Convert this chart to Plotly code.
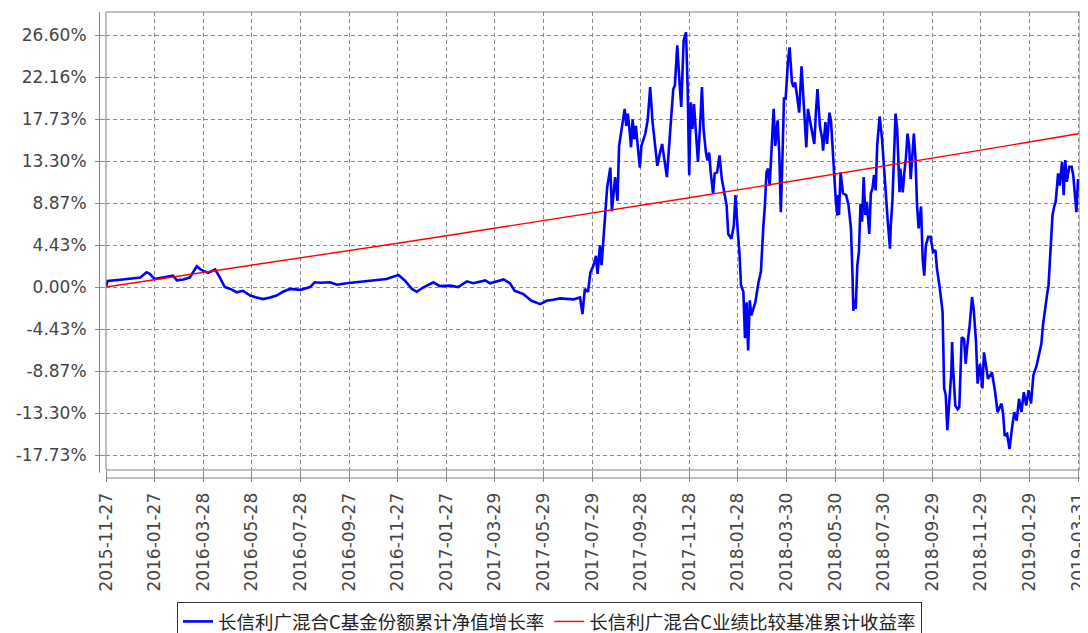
import plotly.graph_objects as go

# ---------------- data ----------------
fund_name = "长信利广混合C基金份额累计净值增长率"
bench_name = "长信利广混合C业绩比较基准累计收益率"

x_tick_dates = [
    "2015-11-27", "2016-01-27", "2016-03-28", "2016-05-28", "2016-07-28",
    "2016-09-27", "2016-11-27", "2017-01-27", "2017-03-29", "2017-05-29",
    "2017-07-29", "2017-09-28", "2017-11-28", "2018-01-28", "2018-03-30",
    "2018-05-30", "2018-07-30", "2018-09-29", "2018-11-29", "2019-01-29",
    "2019-03-31",
]

y_tick_vals = [-17.7333, -13.3, -8.8667, -4.4333, 0.0, 4.4333, 8.8667, 13.3, 17.7333, 22.1667, 26.6]
y_tick_text = ["-17.73%", "-13.30%", "-8.87%", "-4.43%", "0.00%", "4.43%", "8.87%", "13.30%", "17.73%", "22.16%", "26.60%"]

bench_dates = x_tick_dates
bench_values = [0.00, 0.76, 1.52, 2.29, 3.06, 3.84, 4.62, 5.41, 6.20, 7.00, 7.80,
                8.61, 9.43, 10.25, 11.08, 11.91, 12.75, 13.60, 14.45, 15.31, 16.18]

fund_dates = [
    "2015-11-27", "2015-11-29", "2015-12-12", "2015-12-27", "2016-01-09", "2016-01-17", "2016-01-21",
    "2016-01-27", "2016-02-07", "2016-02-19", "2016-02-24", "2016-03-03", "2016-03-11", "2016-03-20",
    "2016-03-24", "2016-03-28", "2016-04-03", "2016-04-12", "2016-04-18", "2016-04-24", "2016-05-01",
    "2016-05-09", "2016-05-17", "2016-05-26", "2016-06-03", "2016-06-11", "2016-06-20", "2016-06-28",
    "2016-07-06", "2016-07-15", "2016-07-28", "2016-08-09", "2016-08-15", "2016-08-22", "2016-09-03",
    "2016-09-12", "2016-09-24", "2016-10-07", "2016-10-27", "2016-11-13", "2016-11-28", "2016-12-06",
    "2016-12-15", "2016-12-21", "2016-12-29", "2017-01-11", "2017-01-19", "2017-02-01", "2017-02-11",
    "2017-02-22", "2017-03-02", "2017-03-17", "2017-03-23", "2017-04-09", "2017-04-17", "2017-04-23",
    "2017-05-04", "2017-05-14", "2017-05-25", "2017-06-02", "2017-06-10", "2017-06-19", "2017-07-06",
    "2017-07-14", "2017-07-17", "2017-07-20", "2017-07-24", "2017-07-27", "2017-07-31", "2017-08-03",
    "2017-08-05", "2017-08-08", "2017-08-10", "2017-08-14", "2017-08-17", "2017-08-21", "2017-08-23",
    "2017-08-27", "2017-08-30", "2017-09-01", "2017-09-04", "2017-09-08", "2017-09-10", "2017-09-12",
    "2017-09-14", "2017-09-16", "2017-09-18", "2017-09-20", "2017-09-22", "2017-09-25", "2017-09-27",
    "2017-09-29", "2017-10-04", "2017-10-07", "2017-10-10", "2017-10-13", "2017-10-16", "2017-10-19",
    "2017-10-22", "2017-10-25", "2017-10-28", "2017-10-31", "2017-11-04", "2017-11-08", "2017-11-10",
    "2017-11-13", "2017-11-16", "2017-11-18", "2017-11-21", "2017-11-24", "2017-11-26", "2017-11-28",
    "2017-11-30", "2017-12-02", "2017-12-04", "2017-12-07", "2017-12-09", "2017-12-12", "2017-12-14",
    "2017-12-16", "2017-12-19", "2017-12-21", "2017-12-23", "2017-12-25", "2017-12-28", "2017-12-30",
    "2018-01-02", "2018-01-05", "2018-01-08", "2018-01-11", "2018-01-14", "2018-01-16", "2018-01-20",
    "2018-01-23", "2018-01-25", "2018-01-28", "2018-01-30", "2018-02-01", "2018-02-04", "2018-02-06",
    "2018-02-08", "2018-02-10", "2018-02-12", "2018-02-14", "2018-02-19", "2018-02-23", "2018-02-26",
    "2018-03-01", "2018-03-03", "2018-03-05", "2018-03-07", "2018-03-09", "2018-03-12", "2018-03-14",
    "2018-03-16", "2018-03-19", "2018-03-21", "2018-03-23", "2018-03-25", "2018-03-27", "2018-03-29",
    "2018-04-01", "2018-04-03", "2018-04-06", "2018-04-08", "2018-04-10", "2018-04-13", "2018-04-15",
    "2018-04-18", "2018-04-20", "2018-04-22", "2018-04-24", "2018-04-26", "2018-05-01", "2018-05-04",
    "2018-05-06", "2018-05-08", "2018-05-11", "2018-05-14", "2018-05-15", "2018-05-18", "2018-05-20",
    "2018-05-23", "2018-05-25", "2018-05-28", "2018-05-31", "2018-06-02", "2018-06-03", "2018-06-04",
    "2018-06-06", "2018-06-09", "2018-06-13", "2018-06-16", "2018-06-19", "2018-06-21", "2018-06-22",
    "2018-06-24", "2018-06-25", "2018-06-27", "2018-06-29", "2018-07-01", "2018-07-03", "2018-07-05",
    "2018-07-07", "2018-07-09", "2018-07-12", "2018-07-14", "2018-07-16", "2018-07-18", "2018-07-20",
    "2018-07-22", "2018-07-25", "2018-07-28", "2018-07-30", "2018-08-01", "2018-08-04", "2018-08-07",
    "2018-08-08", "2018-08-10", "2018-08-12", "2018-08-14", "2018-08-16", "2018-08-17", "2018-08-19",
    "2018-08-20", "2018-08-23", "2018-08-25", "2018-08-27", "2018-08-29", "2018-08-31", "2018-09-02",
    "2018-09-04", "2018-09-06", "2018-09-08", "2018-09-10", "2018-09-12", "2018-09-15", "2018-09-17",
    "2018-09-19", "2018-09-21", "2018-09-24", "2018-09-27", "2018-09-30", "2018-10-03", "2018-10-05",
    "2018-10-08", "2018-10-11", "2018-10-12", "2018-10-14", "2018-10-16", "2018-10-18", "2018-10-20",
    "2018-10-23", "2018-10-24", "2018-10-25", "2018-10-28", "2018-10-31", "2018-11-02", "2018-11-03",
    "2018-11-05", "2018-11-08", "2018-11-10", "2018-11-12", "2018-11-15", "2018-11-18", "2018-11-20",
    "2018-11-23", "2018-11-24", "2018-11-25", "2018-11-28", "2018-12-01", "2018-12-03", "2018-12-06",
    "2018-12-08", "2018-12-13", "2018-12-17", "2018-12-20", "2018-12-23", "2018-12-25", "2018-12-27",
    "2018-12-29", "2019-01-01", "2019-01-04", "2019-01-07", "2019-01-10", "2019-01-13", "2019-01-16",
    "2019-01-19", "2019-01-22", "2019-01-25", "2019-01-28", "2019-01-31", "2019-02-03", "2019-02-07",
    "2019-02-13", "2019-02-15", "2019-02-17", "2019-02-20", "2019-02-22", "2019-02-24", "2019-02-27",
    "2019-03-01", "2019-03-03", "2019-03-06", "2019-03-08", "2019-03-11", "2019-03-13", "2019-03-15",
    "2019-03-17", "2019-03-20", "2019-03-23", "2019-03-25", "2019-03-28", "2019-03-29", "2019-03-31",
]

fund_values = [
    0.00, 0.65, 0.75, 0.85, 1.00, 1.55, 1.40,
    0.85, 1.00, 1.20, 0.70, 0.80, 1.00, 2.20,
    1.90, 1.70, 1.50, 1.85, 1.00, 0.00, -0.20,
    -0.55, -0.40, -0.90, -1.10, -1.27, -1.10, -0.90,
    -0.50, -0.20, -0.30, 0.00, 0.50, 0.45, 0.50,
    0.25, 0.40, 0.50, 0.70, 0.85, 1.27, 0.70,
    -0.20, -0.50, -0.05, 0.50, 0.10, 0.15, 0.00,
    0.60, 0.40, 0.70, 0.40, 0.80, 0.40, -0.40,
    -0.75, -1.45, -1.80, -1.45, -1.35, -1.20, -1.30,
    -1.10, -2.85, -0.20, -0.50, 1.55, 2.30, 3.30,
    1.40, 4.40, 2.30, 6.50, 10.50, 12.60, 8.00,
    11.60, 9.10, 14.90, 16.70, 18.80, 17.00, 18.30,
    16.70, 14.75, 17.70, 15.60, 17.00, 14.20, 12.60,
    14.90, 16.20, 17.70, 21.10, 17.40, 14.90, 12.80,
    14.05, 15.10, 13.35, 11.60, 16.30, 20.90, 21.25,
    25.50, 21.40, 19.00, 26.00, 26.90, 21.25, 11.80,
    19.50, 16.70, 19.30, 15.30, 13.20, 17.60, 21.10,
    16.70, 14.20, 13.35, 14.20, 12.10, 9.85, 12.00,
    12.10, 13.90, 11.40, 10.00, 8.60, 5.60, 5.10,
    6.50, 9.70, 5.80, 3.70, 0.20, -0.50, -5.40,
    -1.60, -6.70, -1.40, -3.00, -1.60, 0.50, 1.60,
    6.30, 8.60, 12.10, 12.50, 10.70, 16.00, 18.80,
    14.90, 17.60, 14.20, 7.90, 13.50, 20.00, 19.80,
    23.90, 25.30, 21.60, 21.10, 21.60, 19.80, 18.40,
    23.30, 20.50, 17.40, 14.75, 18.80, 16.70, 15.10,
    18.40, 20.90, 17.00, 15.60, 14.40, 17.40, 15.10,
    18.40, 17.50, 13.20, 9.10, 7.55, 9.70, 7.60,
    12.10, 9.90, 9.70, 8.60, 6.20, 1.20, -2.50,
    -1.30, -2.30, 2.30, 3.70, 8.80, 6.90, 11.60,
    7.60, 9.00, 5.60, 9.90, 10.40, 11.80, 10.20,
    15.00, 18.00, 15.70, 12.90, 10.70, 7.20, 4.05,
    6.50, 9.00, 13.90, 18.30, 16.70, 13.60, 10.00,
    12.50, 10.00, 12.10, 13.60, 16.20, 15.00, 11.40,
    13.60, 16.20, 13.60, 8.60, 6.20, 8.50, 3.00,
    1.20, 4.40, 5.30, 5.30, 3.70, 3.90, 1.90,
    0.20, -2.30, -2.60, -10.70, -11.40, -15.10, -12.70,
    -9.00, -5.80, -8.30, -12.50, -12.90, -12.70, -9.70,
    -5.30, -5.50, -8.10, -6.20, -4.05, -1.05, -2.30,
    -5.80, -8.30, -10.20, -8.10, -10.70, -6.90, -8.60,
    -9.70, -9.00, -11.10, -13.20, -12.70, -12.30, -13.40,
    -15.70, -15.50, -17.10, -15.00, -13.20, -14.10, -11.80,
    -13.20, -11.10, -12.50, -10.90, -12.30, -9.30, -8.30,
    -6.00, -4.05, -2.60, -0.90, 0.20, 3.35, 7.60,
    8.45, 9.00, 12.00, 10.70, 13.20, 9.70, 13.40,
    11.10, 12.70, 12.70, 11.80, 9.00, 7.90, 11.40,
]

# ---------------- figure ----------------
tick_font = dict(family="DejaVu Sans", size=17, color="#444444")
grid_col = "#8a8a8a"

fig = go.Figure()
fig.add_trace(go.Scatter(x=fund_dates, y=fund_values, mode="lines", name=fund_name,
                         line=dict(color="#0000ff", width=2.6)))
fig.add_trace(go.Scatter(x=bench_dates, y=bench_values, mode="lines", name=bench_name,
                         line=dict(color="#ff0000", width=1.4)))

# the page body has an 8px margin, so the figure is sized to sit in the window
fig.update_layout(
    width=1080, height=625,
    margin=dict(l=98, r=8, t=4, b=163, autoexpand=False),
    paper_bgcolor="white", plot_bgcolor="white",
    showlegend=True,
    legend=dict(orientation="h", x=0.0729, xanchor="left", y=-0.288, yanchor="top",
                bordercolor="#333333", borderwidth=1, bgcolor="white",
                font=dict(family="Noto Sans CJK SC", size=18.5, color="#222222"),
                itemwidth=30),
)

fig.update_xaxes(
    type="date", range=["2015-11-27", "2019-04-02 12:00"],
    tickvals=x_tick_dates, ticktext=x_tick_dates, tickangle=-90,
    ticks="outside", ticklen=11, tickcolor="#888888", tickfont=tick_font,
    ticklabelstandoff=4,
    showgrid=True, gridcolor=grid_col, griddash="4px,3px", gridwidth=1,
    showline=False, zeroline=False,
)
fig.update_yaxes(
    range=[-19.31, 29.03],
    tickvals=y_tick_vals, ticktext=y_tick_text,
    ticks="outside", ticklen=10, tickcolor="#888888", tickfont=tick_font,
    ticklabelstandoff=5,
    showgrid=True, gridcolor=grid_col, griddash="4px,3px", gridwidth=1,
    showline=False, zeroline=False,
)

# plot border and offset axis lines
fig.add_shape(type="rect", xref="paper", yref="paper", x0=0, y0=0, x1=1, y1=1,
              line=dict(color="#808080", width=1), layer="above")
fig.add_shape(type="line", xref="paper", yref="paper", x0=-0.0067, x1=-0.0067, y0=-0.006, y1=1,
              line=dict(color="#808080", width=1))
fig.add_shape(type="line", xref="paper", yref="paper", x0=0, x1=1, y0=-0.0175, y1=-0.0175,
              line=dict(color="#808080", width=1))

fig.write_html("out.html")
